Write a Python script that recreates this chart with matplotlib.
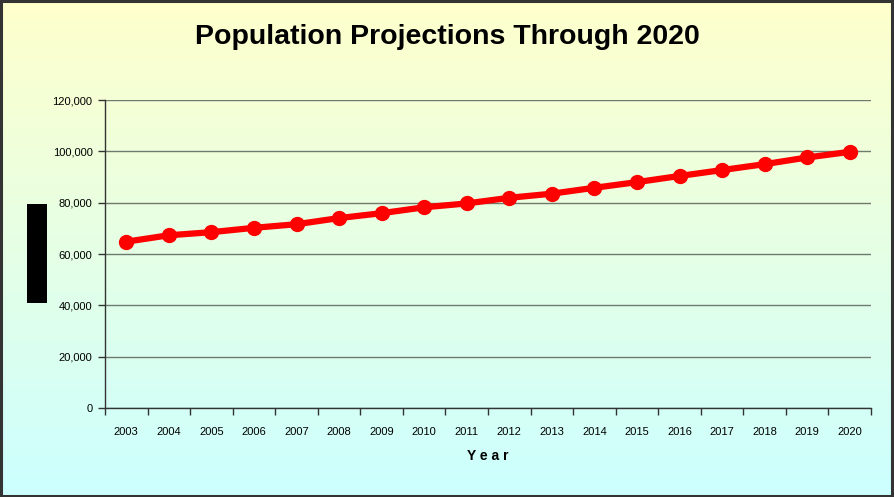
import matplotlib
matplotlib.use("Agg")
import matplotlib.pyplot as plt
import numpy as np
from matplotlib.patches import Rectangle
from matplotlib.colors import LinearSegmentedColormap
from matplotlib.ticker import FuncFormatter, FixedLocator

years = ["2003", "2004", "2005", "2006", "2007", "2008", "2009", "2010", "2011",
         "2012", "2013", "2014", "2015", "2016", "2017", "2018", "2019", "2020"]
population = [64800, 67300, 68500, 70200, 71600, 74000, 75900, 78200, 79700,
              81900, 83500, 85800, 88000, 90400, 92700, 95000, 97600, 99800]
y_ticks = [0, 20000, 40000, 60000, 80000, 100000, 120000]

plt.rcParams['font.family'] = ['Liberation Sans', 'DejaVu Sans']

W, H = 894, 497
fig = plt.figure(figsize=(W / 100, H / 100), dpi=100)

# gradient background
bg = fig.add_axes([0, 0, 1, 1], zorder=-10)
cmap = LinearSegmentedColormap.from_list("g", ["#FFFFCC", "#CCFFFF"])
grad = np.linspace(0, 1, 256).reshape(-1, 1)
bg.imshow(grad, aspect="auto", cmap=cmap, extent=[0, 1, 0, 1], origin="upper")
bg.set_xlim(0, 1)
bg.set_ylim(0, 1)
bg.axis("off")

# border
fig.patches.append(Rectangle((0.001, 0.002), 0.997, 0.996, transform=fig.transFigure,
                             fill=False, edgecolor="#333333", linewidth=2.2, zorder=5))
# black box (left)
fig.patches.append(Rectangle((27 / W, 1 - 303 / H), 20 / W, 99 / H, transform=fig.transFigure,
                             facecolor="black", edgecolor="none", zorder=5))

left, right, top, bottom = 105, 871, 100, 408
ax = fig.add_axes([left / W, 1 - bottom / H, (right - left) / W, (bottom - top) / H])
ax.set_facecolor("none")

x = np.arange(len(years))
ax.plot(x, population, color="#FF0000", linewidth=4.5, marker="o", markersize=10,
        markerfacecolor="#FF0000", markeredgecolor="#FF0000", zorder=3, solid_capstyle="round")

ax.set_xlim(-0.5, len(years) - 0.5)
ax.set_ylim(0, 120000)
ax.set_yticks(y_ticks)
ax.yaxis.set_major_formatter(FuncFormatter(lambda v, p: f"{int(v):,}"))
ax.yaxis.grid(True, color="#6E7A6E", linewidth=1.0)
ax.set_axisbelow(True)

ax.xaxis.set_major_locator(FixedLocator(np.arange(-0.5, len(years), 1.0)))
ax.xaxis.set_minor_locator(FixedLocator(x))
ax.set_xticklabels([])
ax.set_xticklabels(years, minor=True)
ax.tick_params(axis="x", which="major", length=5, width=1, color="#333333", direction="out")
ax.tick_params(axis="x", which="minor", length=0, pad=14, labelsize=8)
ax.tick_params(axis="y", length=5, width=1, color="#333333", labelsize=8, pad=4)

for s in ["top", "right"]:
    ax.spines[s].set_visible(False)
for s in ["left", "bottom"]:
    ax.spines[s].set_color("#333333")
    ax.spines[s].set_linewidth(1.0)

fig.text(0.5, 1 - 37 / H, "Population Projections Through 2020", ha="center", va="center",
         fontsize=20.5, fontweight="bold")
fig.text((left + right) / 2 / W, 1 - 456 / H, "Y e a r", ha="center", va="center",
         fontsize=10, fontweight="bold")

fig.savefig("out.png", dpi=100)
